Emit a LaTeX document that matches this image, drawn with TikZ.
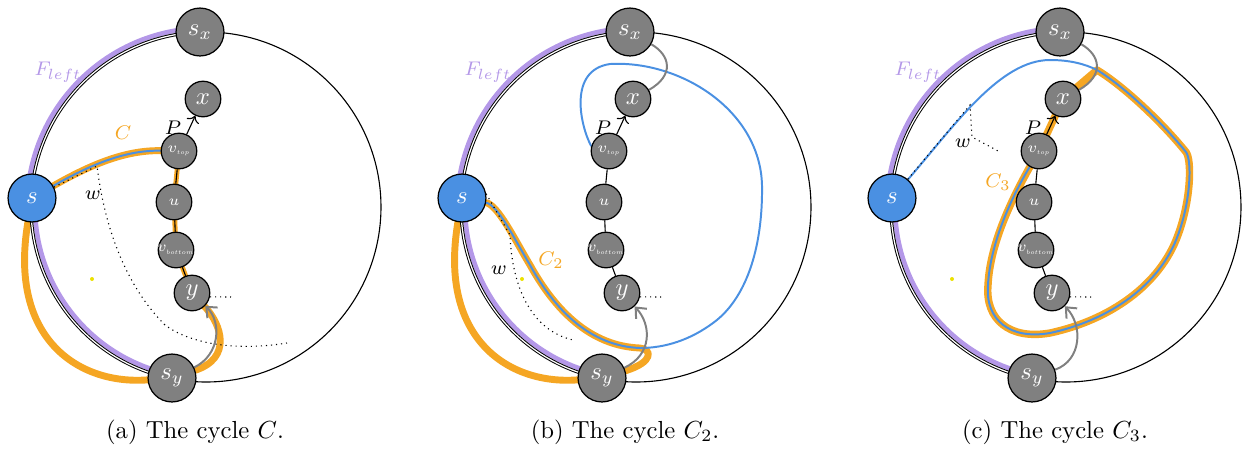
\documentclass[tikz,border=0pt]{standalone}
\usepackage{graphicx}
\usetikzlibrary{arrows.meta}
\newcommand{\vfont}{\fontsize{6.2}{7}\selectfont}
\newcommand{\vsub}[1]{\scalebox{0.5}{$\scriptstyle #1$}}
\definecolor{orng}{RGB}{245,166,35}
\definecolor{blu}{RGB}{74,144,226}
\definecolor{purp}{RGB}{180,152,232}
\definecolor{ngray}{RGB}{128,128,128}
\definecolor{yel}{RGB}{235,225,0}
\pgfdeclarelayer{bg}
\pgfdeclarelayer{mid}
\pgfsetlayers{bg,mid,main}
\tikzset{
  bnode/.style={circle, draw=black, line width=0.5pt, fill=ngray, text=white, minimum size=19.4pt, inner sep=0pt},
  snode/.style={circle, draw=black, line width=0.5pt, fill=ngray, text=white, minimum size=14.4pt, inner sep=0pt, font=\normalsize},
  vnode/.style={snode, font=\vfont},
  thinl/.style={line width=0.45pt, draw=black},
  dbl/.style={line width=0.4pt, draw=black, double=white, double distance=0.5pt},
  fleft/.style={line width=1.9pt, draw=purp},
  oband/.style={line width=2.8pt, draw=orng, line cap=round, line join=round},
  bline/.style={line width=0.8pt, draw=blu},
  wdot/.style={line width=0.45pt, dash pattern=on 0.45pt off 1.6pt},
  gcurve/.style={line width=0.8pt, draw=ngray},
  garrow/.style={line width=0.8pt, draw=ngray, -{Straight Barb[length=3.5pt, width=6pt]}},
  olabel/.style={text=orng, font=\footnotesize},
}
\newcommand{\basepanel}[2]{%
  \coordinate (#1-o) at (206,207);
  \node[bnode] (#1-sx) at (200,32) {$s_x$};
  \node[bnode,fill=blu] (#1-s) at (32,198) {$s$};
  \node[bnode] (#1-sy) at (172,378) {$s_y$};
  \node[snode] (#1-x) at (203,99) {$x$};
  \node[vnode] (#1-vt) at (179,151) {\makebox[0pt]{$v_{\vsub{top}}$}};
  \node[vnode] (#1-u) at (174,202) {$u$};
  \node[vnode] (#1-vb) at (176,250) {\makebox[0pt]{$v_{\vsub{bottom}}$}};
  \node[snode] (#1-y) at (192,293) {$y$};
  \draw[thinl] (#1-vt) -- (#1-u);
  \draw[thinl] (#1-u) -- (#1-vb);
  \draw[thinl] (#1-vb) -- (#1-y);
  \draw[thinl,->] (#1-vt) -- (#1-x);
  \node[font=\footnotesize] (#1-P) at (173,128) {$P$};
  \coordinate (#1-ye) at (231,297);
  \draw[wdot] (#1-y.-12) -- (#1-ye);
  \fill[yel] (92,279) circle[radius=2];
  \node[text=purp,font=\footnotesize] (#1-F) at (58,72) {$F_{left}$};
  \node (#1-cap) at (195,432) {#2};
  \begin{pgfonlayer}{mid}
    \draw[thinl] (#1-o) ++(-92:175) arc[start angle=-92,end angle=101.2,radius=175];
    \draw[dbl] (#1-o) ++(101.2:175) arc[start angle=101.2,end angle=268,radius=175];
  \end{pgfonlayer}
  \begin{pgfonlayer}{bg}
    \draw[fleft] (#1-o) ++(101.2:171) arc[start angle=101.2,end angle=183.3,radius=171];
    \draw[fleft] (#1-o) ++(183.3:179) arc[start angle=183.3,end angle=268,radius=179];
  \end{pgfonlayer}
}
\begin{document}
\begin{tikzpicture}[x=0.405pt,y=-0.405pt]
\useasboundingbox (0,0) rectangle (1247,449);
% ---------------- (a)
\begin{scope}
\basepanel{a}{(a) The cycle $C$.}
\coordinate (a-w1) at (97,166);
\coordinate (a-w2) at (165,325);
\coordinate (a-w3) at (287,343);
\begin{pgfonlayer}{bg}
  \draw[oband] (a-s) .. controls (90,165) and (125,150) .. (a-vt);
  \draw[oband,line width=2pt] (a-vt.center) -- (a-u.center) -- (a-vb.center) -- (a-y.center);
  \draw[oband] (a-y) .. controls (222,325) and (232,358) .. (a-sy);
  \draw[oband] (a-sy) .. controls (80,385) and (8,340) .. (a-s);
\end{pgfonlayer}
\begin{pgfonlayer}{mid}
  \draw[bline] (a-s) .. controls (90,165) and (125,150) .. (a-vt);
  \draw[wdot] (a-s) -- (a-w1) .. controls (103,215) and (120,280) .. (a-w2) .. controls (195,347) and (245,350) .. (a-w3);
  \draw[garrow] (a-sy) .. controls (220,355) and (222,322) .. (a-y);
\end{pgfonlayer}
\node[font=\footnotesize] (a-w) at (93,195) {$w$};
\node[olabel] (a-C) at (123,133) {$C$};
\end{scope}
% ---------------- (b)
\begin{scope}[shift={(430,0)}]
\basepanel{b}{(b) The cycle $C_2$.}
\coordinate (b-w1) at (80,235);
\coordinate (b-w2) at (143,340);
\begin{pgfonlayer}{bg}
  \draw[oband] (b-s) .. controls (68,205) and (85,240) .. (100,265) .. controls (125,310) and (160,346) .. (210,348) .. controls (222,349) and (224,362) .. (b-sy);
  \draw[oband] (b-sy) .. controls (80,385) and (8,340) .. (b-s);
\end{pgfonlayer}
\begin{pgfonlayer}{mid}
  \draw[bline] (b-vt.165) .. controls (150,125) and (138,70) .. (180,64) .. controls (250,60) and (330,110) .. (332,185) .. controls (333,250) and (315,300) .. (283,323) .. controls (260,340) and (235,348) .. (210,348) .. controls (160,346) and (125,310) .. (100,265) .. controls (85,240) and (68,205) .. (b-s);
  \draw[gcurve] (b-sx) .. controls (240,55) and (245,75) .. (b-x);
  \draw[wdot] (b-s.10) -- (b-w1) .. controls (82,285) and (100,330) .. (b-w2);
  \draw[garrow] (b-sy) .. controls (222,355) and (222,325) .. (b-y);
\end{pgfonlayer}
\node[font=\footnotesize] (b-w) at (69,270) {$w$};
\node[olabel] (b-C) at (121,260) {$C_2$};
\end{scope}
% ---------------- (c)
\begin{scope}[shift={(860,0)}]
\basepanel{c}{(c) The cycle $C_3$.}
\coordinate (c-K) at (237,70);
\coordinate (c-w1) at (110,105);
\coordinate (c-w2) at (112,137);
\coordinate (c-w3) at (140,152);
\begin{pgfonlayer}{bg}
  \draw[oband,line width=3pt] (c-vt.center) -- (c-x.center) -- (c-K) .. controls (262,85) and (300,120) .. (326,152) .. controls (332,160) and (331,200) .. (318,235) .. controls (300,285) and (250,320) .. (190,333) .. controls (150,340) and (125,320) .. (128,285) .. controls (130,245) and (150,200) .. (c-vt.center);
\end{pgfonlayer}
\begin{pgfonlayer}{mid}
  \draw[bline] (c-s) .. controls (95,125) and (140,60) .. (190,60) .. controls (210,60) and (225,64) .. (c-K) .. controls (262,85) and (300,120) .. (326,152) .. controls (332,160) and (331,200) .. (318,235) .. controls (300,285) and (250,320) .. (190,333) .. controls (150,340) and (125,320) .. (128,285) .. controls (130,245) and (150,200) .. (c-vt);
  \draw[gcurve] (c-sx) .. controls (240,55) and (245,75) .. (c-x);
  \draw[wdot] (c-s) -- (c-w1) -- (c-w2) -- (c-w3);
  \draw[garrow] (c-sy) .. controls (222,360) and (223,325) .. (c-y);
\end{pgfonlayer}
\node[font=\footnotesize] (c-w) at (103,143) {$w$};
\node[olabel] (c-C) at (138,182) {$C_3$};
\end{scope}
\end{tikzpicture}
\end{document}
